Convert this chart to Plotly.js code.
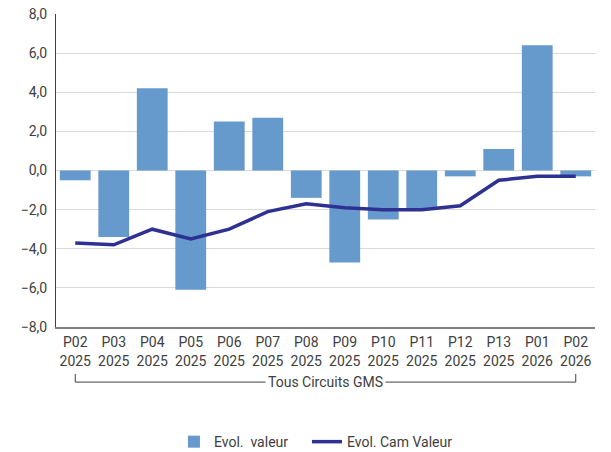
<!DOCTYPE html>
<html>
<head>
<meta charset="utf-8">
<script src="https://cdn.plot.ly/plotly-3.0.1.min.js"></script>
<style>html,body{margin:0;padding:0;background:#fff;}#chart{width:611px;height:452px;}</style>
</head>
<body>
<div id="chart"></div>
<script>
const categories = ["P02 2025","P03 2025","P04 2025","P05 2025","P06 2025","P07 2025","P08 2025","P09 2025","P10 2025","P11 2025","P12 2025","P13 2025","P01 2026","P02 2026"];
const tickLabels = ["P02<br>2025","P03<br>2025","P04<br>2025","P05<br>2025","P06<br>2025","P07<br>2025","P08<br>2025","P09<br>2025","P10<br>2025","P11<br>2025","P12<br>2025","P13<br>2025","P01<br>2026","P02<br>2026"];
const evolValeur = [-0.5, -3.4, 4.2, -6.1, 2.5, 2.7, -1.4, -4.7, -2.5, -2.0, -0.3, 1.1, 6.4, -0.3];
const evolCamValeur = [-3.7, -3.8, -3.0, -3.5, -3.0, -2.1, -1.7, -1.9, -2.0, -2.0, -1.8, -0.5, -0.3, -0.3];
const groupLabel = "Tous Circuits GMS";

const fontFam = "Roboto, 'Open Sans', sans-serif";
const traces = [
  {type:'bar', x:categories, y:evolValeur, name:'Evol.  valeur', marker:{color:'#6699CC'}, legend:'legend'},
  {type:'scatter', mode:'lines', x:categories, y:evolCamValeur, name:'Evol. Cam Valeur', line:{color:'#2E3192', width:3.5}, legend:'legend2'}
];
const legendCommon = {orientation:'h', xanchor:'left', xref:'container', y:0.022, yref:'container', yanchor:'middle', font:{size:14, color:'#404040'}, itemwidth:30, bgcolor:'rgba(0,0,0,0)'};
const layout = {
  width:611, height:452,
  margin:{l:56, r:16, t:14, b:125, autoexpand:false},
  paper_bgcolor:'#fff', plot_bgcolor:'#fff',
  font:{family:fontFam, size:14, color:'#404040'},
  bargap:0.2,
  showlegend:true,
  legend:Object.assign({}, legendCommon, {x:0.2847}),
  legend2:Object.assign({}, legendCommon, {x:0.5024}),
  xaxis:{type:'category', tickvals:categories, ticktext:tickLabels, showgrid:false, showline:true, linecolor:'#7f7f7f', linewidth:1.5, ticks:'', tickfont:{size:14, color:'#404040'}, ticklabelstandoff:2, tickangle:0, automargin:false, fixedrange:true},
  yaxis:{range:[-8,8], dtick:2, tickformat:'.1f', showgrid:true, gridcolor:'#d9d9d9', gridwidth:1, showline:true, linecolor:'#404040', linewidth:1, zeroline:false, ticks:'', tickfont:{size:14, color:'#404040'}, ticklabelstandoff:5, automargin:false, fixedrange:true},
  separators:',.',
  shapes:[
    {type:'line', xref:'x', yref:'paper', x0:categories[0], x1:categories[categories.length-1], y0:-0.176, y1:-0.176, line:{color:'#404040', width:1}},
    {type:'line', xref:'x', yref:'paper', x0:categories[0], x1:categories[0], y0:-0.150, y1:-0.176, line:{color:'#404040', width:1}},
    {type:'line', xref:'x', yref:'paper', x0:categories[categories.length-1], x1:categories[categories.length-1], y0:-0.150, y1:-0.176, line:{color:'#404040', width:1}}
  ],
  annotations:[
    {text:groupLabel, xref:'paper', yref:'paper', x:0.5, y:-0.176, xanchor:'center', yanchor:'middle', showarrow:false, bgcolor:'#fff', borderpad:2, font:{size:14, color:'#404040'}}
  ]
};
Plotly.newPlot('chart', traces, layout, {displayModeBar:false, staticPlot:true});
</script>
</body>
</html>
